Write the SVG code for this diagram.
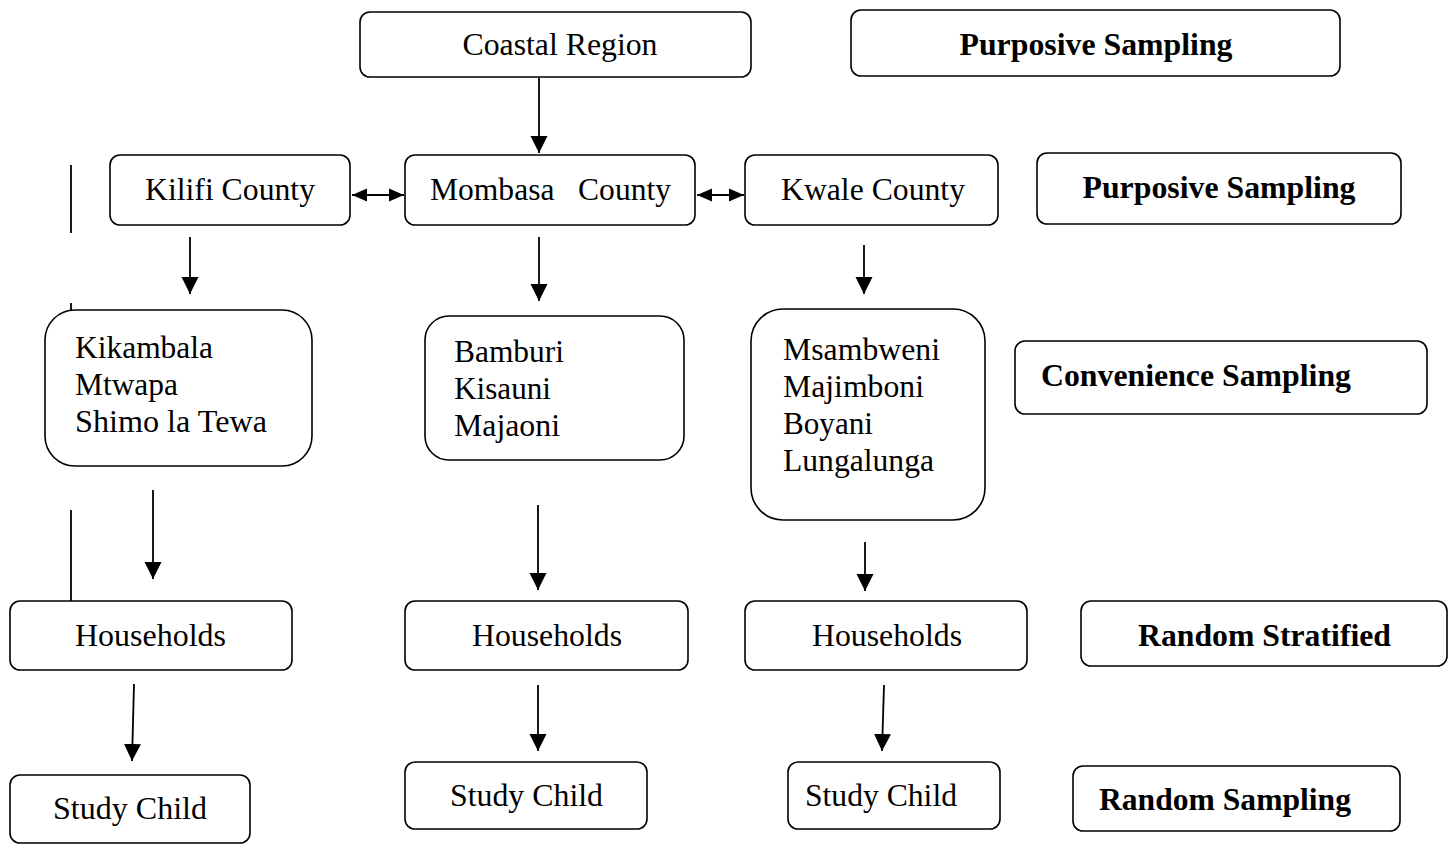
<svg xmlns="http://www.w3.org/2000/svg" width="1455" height="844" viewBox="0 0 1455 844">
<style>
.box{fill:#fff;stroke:#000;stroke-width:1.6}
.t{font-family:"Liberation Serif","Times New Roman",serif;font-size:31px;fill:#000}
.c{text-anchor:middle}
.b{font-weight:bold}
.ln{stroke:#000;stroke-width:1.8;fill:none}
</style>
<defs>
<marker id="ah" markerUnits="userSpaceOnUse" markerWidth="18" markerHeight="18" viewBox="0 0 18 18" refX="17" refY="9" orient="auto">
<path d="M0,0.5 L17,9 L0,17.5 Z" fill="#000"/>
</marker>
<marker id="ahs" markerUnits="userSpaceOnUse" markerWidth="16" markerHeight="14" viewBox="0 0 16 14" refX="15" refY="7" orient="auto-start-reverse">
<path d="M0,0.5 L15,7 L0,13.5 Z" fill="#000"/>
</marker>
</defs>
<rect width="1455" height="844" fill="#fff"/>

<g id="connectors">
<line class="ln" x1="539" y1="78" x2="539" y2="153" marker-end="url(#ah)"/>
<line class="ln" x1="190" y1="237" x2="190" y2="294" marker-end="url(#ah)"/>
<line class="ln" x1="539" y1="237" x2="539" y2="301" marker-end="url(#ah)"/>
<line class="ln" x1="864" y1="245" x2="864" y2="294" marker-end="url(#ah)"/>
<line class="ln" x1="153" y1="490" x2="153" y2="579" marker-end="url(#ah)"/>
<line class="ln" x1="538" y1="505" x2="538" y2="590" marker-end="url(#ah)"/>
<line class="ln" x1="865" y1="542" x2="865" y2="591" marker-end="url(#ah)"/>
<line class="ln" x1="134" y1="684" x2="132" y2="761" marker-end="url(#ah)"/>
<line class="ln" x1="538" y1="685" x2="538" y2="751" marker-end="url(#ah)"/>
<line class="ln" x1="884" y1="685" x2="882" y2="751" marker-end="url(#ah)"/>
<line class="ln" x1="352" y1="195" x2="404" y2="195" marker-start="url(#ahs)" marker-end="url(#ahs)"/>
<line class="ln" x1="697" y1="195" x2="744" y2="195" marker-start="url(#ahs)" marker-end="url(#ahs)"/>
<line class="ln" x1="71" y1="165" x2="71" y2="233"/>
<line class="ln" x1="71" y1="303" x2="71" y2="311"/>
<line class="ln" x1="71" y1="510" x2="71" y2="601"/>
</g>

<g id="coastal"><rect class="box" x="360" y="12" width="391" height="65" rx="10"/><text class="t c" x="560" y="55" textLength="195" lengthAdjust="spacingAndGlyphs">Coastal Region</text></g>
<g id="ps1"><rect class="box" x="851" y="10" width="489" height="66" rx="10"/><text class="t c b" x="1096" y="55" textLength="273" lengthAdjust="spacingAndGlyphs">Purposive Sampling</text></g>

<g id="kilifi"><rect class="box" x="110" y="155" width="240" height="70" rx="10"/><text class="t c" x="230" y="200" textLength="170" lengthAdjust="spacingAndGlyphs">Kilifi County</text></g>
<g id="mombasa"><rect class="box" x="405" y="155" width="290" height="70" rx="10"/><text class="t" x="430" y="200" textLength="241" lengthAdjust="spacingAndGlyphs" xml:space="preserve">Mombasa   County</text></g>
<g id="kwale"><rect class="box" x="745" y="155" width="253" height="70" rx="10"/><text class="t c" x="873" y="200" textLength="184" lengthAdjust="spacingAndGlyphs">Kwale County</text></g>
<g id="ps2"><rect class="box" x="1037" y="153" width="364" height="71" rx="10"/><text class="t c b" x="1219" y="198" textLength="273" lengthAdjust="spacingAndGlyphs">Purposive Sampling</text></g>

<g id="kikambala"><rect class="box" x="45" y="310" width="267" height="156" rx="30"/>
<text class="t" x="75" y="358" textLength="138" lengthAdjust="spacingAndGlyphs">Kikambala</text>
<text class="t" x="75" y="395" textLength="103" lengthAdjust="spacingAndGlyphs">Mtwapa</text>
<text class="t" x="75" y="432" textLength="192" lengthAdjust="spacingAndGlyphs">Shimo la Tewa</text></g>
<g id="bamburi"><rect class="box" x="425" y="316" width="259" height="144" rx="24"/>
<text class="t" x="454" y="362" textLength="110" lengthAdjust="spacingAndGlyphs">Bamburi</text>
<text class="t" x="454" y="399" textLength="97" lengthAdjust="spacingAndGlyphs">Kisauni</text>
<text class="t" x="454" y="436" textLength="106" lengthAdjust="spacingAndGlyphs">Majaoni</text></g>
<g id="msambweni"><rect class="box" x="751" y="309" width="234" height="211" rx="32"/>
<text class="t" x="783" y="360" textLength="157" lengthAdjust="spacingAndGlyphs">Msambweni</text>
<text class="t" x="783" y="397" textLength="141" lengthAdjust="spacingAndGlyphs">Majimboni</text>
<text class="t" x="783" y="434" textLength="90" lengthAdjust="spacingAndGlyphs">Boyani</text>
<text class="t" x="783" y="471" textLength="151" lengthAdjust="spacingAndGlyphs">Lungalunga</text></g>
<g id="convenience"><rect class="box" x="1015" y="341" width="412" height="73" rx="10"/><text class="t b" x="1041" y="386" textLength="310" lengthAdjust="spacingAndGlyphs">Convenience Sampling</text></g>

<g id="hh1"><rect class="box" x="10" y="601" width="282" height="69" rx="10"/><text class="t" x="75" y="646" textLength="151" lengthAdjust="spacingAndGlyphs">Households</text></g>
<g id="hh2"><rect class="box" x="405" y="601" width="283" height="69" rx="10"/><text class="t" x="472" y="646" textLength="150" lengthAdjust="spacingAndGlyphs">Households</text></g>
<g id="hh3"><rect class="box" x="745" y="601" width="282" height="69" rx="10"/><text class="t" x="812" y="646" textLength="150" lengthAdjust="spacingAndGlyphs">Households</text></g>
<g id="rs1"><rect class="box" x="1081" y="601" width="366" height="65" rx="10"/><text class="t b" x="1138" y="646" textLength="253" lengthAdjust="spacingAndGlyphs">Random Stratified</text></g>

<g id="sc1"><rect class="box" x="10" y="775" width="240" height="68" rx="10"/><text class="t" x="53" y="819" textLength="154" lengthAdjust="spacingAndGlyphs">Study Child</text></g>
<g id="sc2"><rect class="box" x="405" y="762" width="242" height="67" rx="10"/><text class="t" x="450" y="806" textLength="153" lengthAdjust="spacingAndGlyphs">Study Child</text></g>
<g id="sc3"><rect class="box" x="788" y="762" width="212" height="67" rx="10"/><text class="t" x="805" y="806" textLength="152" lengthAdjust="spacingAndGlyphs">Study Child</text></g>
<g id="rs2"><rect class="box" x="1073" y="766" width="327" height="65" rx="10"/><text class="t b" x="1099" y="810" textLength="252" lengthAdjust="spacingAndGlyphs">Random Sampling</text></g>
</svg>
